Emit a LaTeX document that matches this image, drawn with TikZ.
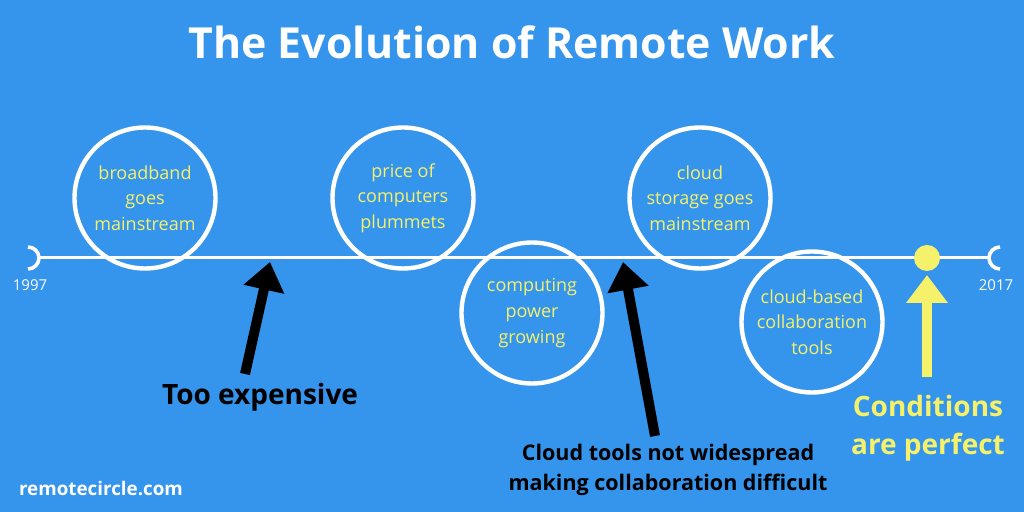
\documentclass[tikz,border=0pt]{standalone}
\usepackage{fontspec}
\setmainfont{Open Sans}
\usetikzlibrary{arrows.meta}
\definecolor{bg}{HTML}{3594EC}
\definecolor{yel}{HTML}{F6F16A}
\begin{document}
\begin{tikzpicture}[x=0.5pt,y=-0.5pt,
  ev/.style={circle,draw=white,line width=2.2pt,minimum size=70.5pt,inner sep=0pt,align=center,text=yel,font=\fontsize{9}{12.8}\selectfont},
  yr/.style={text=white,font=\fontsize{7.5}{9}\selectfont},
  bar/.style={line width=5pt,-{Triangle[length=14pt,width=20pt]}}]
\fill[bg] (0,0) rectangle (1024,512);
\useasboundingbox (0,0) rectangle (1024,512);
\node[text=white,font=\bfseries\fontsize{21.4}{25}\selectfont] (title) at (512,42) {The Evolution of Remote Work};
\coordinate (ls) at (38,258); \coordinate (le) at (990,258);
\draw[white,line width=1.5pt] (ls) -- (le);
\draw[white,line width=1.8pt] (28,269) arc[start angle=90,end angle=-90,radius=11];
\draw[white,line width=1.8pt] (1000,269) arc[start angle=90,end angle=270,radius=11];
\node[yr] (y1) at (30,285) {1997};
\node[yr] (y2) at (996,285) {2017};
\node[ev] (c1) at (145,198) {broadband\\goes\\mainstream};
\node[ev] (c2) at (403,198) {price of\\computers\\plummets};
\node[ev] (c3) at (532,313) {computing\\power\\growing};
\node[ev] (c4) at (700,198) {cloud\\storage goes\\mainstream};
\node[ev] (c5) at (812,322) {cloud-based\\collaboration\\tools};
\coordinate (t1) at (270,262); \coordinate (b1) at (245,374);
\draw[bar,black] (b1) -- (t1);
\coordinate (t2) at (623,262); \coordinate (b2) at (655,436);
\draw[bar,black] (b2) -- (t2);
\node[circle,fill=yel,minimum size=13pt,inner sep=0pt] (dot) at (927,258) {};
\coordinate (t3) at (927,275); \coordinate (b3) at (927,377);
\draw[bar,yel] (b3) -- (t3);
\node[font=\bfseries\fontsize{14}{16}\selectfont] (l1) at (260,397) {Too expensive};
\node[align=center,font=\bfseries\fontsize{10.75}{15}\selectfont] (l2) at (668,470) {Cloud tools not widespread\\making collaboration difficult};
\node[align=center,text=yel,font=\bfseries\fontsize{14}{19}\selectfont] (l3) at (928,428) {Conditions\\are perfect};
\node[anchor=west,text=white,font=\bfseries\fontsize{9.4}{11}\selectfont] (site) at (12,488) {remotecircle.com};
\end{tikzpicture}
\end{document}
